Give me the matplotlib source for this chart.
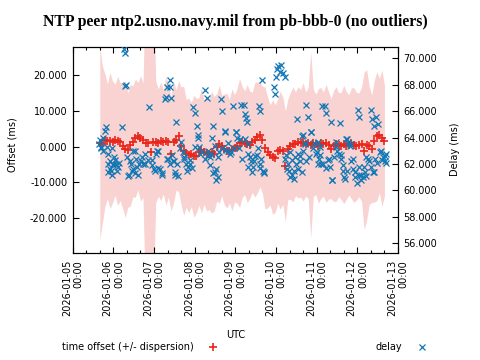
import numpy as np
import matplotlib
matplotlib.use("Agg")
import matplotlib.pyplot as plt
from matplotlib.lines import Line2D
from matplotlib.ticker import MultipleLocator

# ---------------- data (hours since 2026-01-05 00:00 UTC) ----------------
offset_hours = list(np.arange(16.0, 184.1, 1.5))
offset_ms = [1.0, 0.6, 1.8, 1.5, 1.7, 1.3, 1.9, 1.6, 1.4, 0.2,
             -0.8, -1.0, 0.4, 1.4, 2.4, 2.9, 2.3, 1.8, 1.0, 0.9,
             -1.4, 1.2, 1.4, 1.1, 1.5, 1.3, 1.7, 1.4, -2.0, 1.2,
             1.9, 2.9, 0.2, -1.2, -1.9, -2.4, -2.2, -2.7, -2.5, -1.4,
             -1.0, -1.6, -1.9, -2.1, -1.5, -2.0, -0.2, 0.7, 0.3, -0.8,
             -1.1, -1.3, -0.9, -0.5, 0.2, 1.0, 1.3, 1.1, 0.8, 0.5,
             1.2, 1.9, 2.6, 3.3, 1.9, -0.4, -1.6, -2.3, -2.9, -3.3,
             -1.3, -1.0, -1.1, -5.5, -0.7, 0.2, 0.6, 0.8, 1.2, 0.9,
             1.3, 0.7, 1.0, 0.5, 1.1, 0.6, 0.2, 1.0, 0.7, 0.9,
             0.4, -0.6, 0.2, 0.7, 0.5, 0.2, 0.6, 0.3, 0.5, 0.9,
             0.4, 0.1, 0.5, 0.7, -1.2, 0.5, 0.3, -0.6, 1.5, 2.9,
             3.1, 2.4, 1.6]
dispersion_ms = [27.0, 22.0, 18.5, 16.0, 19.0, 17.0, 15.5, 18.0, 16.5, 17.5,
                 19.0, 16.0, 17.0, 15.5, 16.5, 15.0, 17.5, 16.0, 45.0, 45.0,
                 45.0, 45.0, 17.0, 15.0, 16.5, 14.5, 18.0, 15.5, 16.0, 17.0,
                 14.0, 15.5, 16.5, 18.0, 15.0, 16.0, 14.5, 17.0, 16.0, 15.0,
                 17.5, 14.5, 16.0, 15.5, 17.0, 16.0, 15.0, 16.5, 14.0, 15.5,
                 16.0, 14.5, 17.0, 15.0, 16.0, 18.0, 15.5, 14.5, 16.5, 15.0,
                 14.0, 16.0, 15.5, 14.5, 15.0, 17.0, 15.5, 14.0, 16.0, 15.0,
                 14.5, 16.5, 15.0, 15.5, 14.0, 15.0, 16.0, 14.5, 15.5, 15.0,
                 16.5, 14.5, 15.5, 26.0, 15.0, 14.0, 16.0, 15.5, 14.5, 16.5,
                 15.0, 14.0, 15.5, 16.0, 14.5, 15.0, 16.5, 15.0, 14.0, 15.5,
                 16.0, 15.0, 14.5, 16.0, 22.0, 21.0, 16.5, 15.0, 17.0, 18.0,
                 16.0, 19.0, 15.5]

delay_hours = [15.5, 16.1, 16.7, 17.9, 19.1, 19.7, 20.2, 20.8, 22.0, 22.6,
               23.2, 23.8, 24.4, 25.6, 26.7, 29.1, 30.3, 30.6, 30.9, 31.5,
               32.1, 33.2, 34.4, 35.0, 35.6, 36.8, 38.0, 39.1, 40.3, 41.5,
               42.7, 45.0, 46.8, 48.0, 49.2, 50.3, 51.5, 52.7, 54.5, 55.1,
               55.7, 56.2, 57.4, 57.4, 58.0, 58.6, 59.8, 60.4, 60.7, 61.6,
               64.0, 65.7, 66.9, 68.1, 69.3, 71.0, 72.2, 73.4, 74.0, 74.6,
               75.1, 78.1, 79.3, 79.9, 81.0, 81.6, 82.8, 84.0, 84.6, 85.8,
               87.5, 88.1, 89.9, 90.5, 91.7, 92.9, 94.6, 96.4, 97.0, 98.2,
               99.4, 101.7, 102.3, 103.5, 101.1, 102.9, 103.5, 104.7, 105.8, 107.0,
               108.8, 110.0, 110.3, 110.6, 111.7, 112.3, 112.9, 118.8, 119.4, 120.0,
               120.6, 121.2, 122.4, 123.0, 124.1, 125.3, 125.9, 127.1, 127.7, 128.3,
               129.4, 130.6, 131.2, 132.4, 133.0, 134.2, 135.3, 135.9, 137.1, 137.7,
               138.9, 139.5, 140.7, 141.8, 143.6, 144.8, 146.0, 147.2, 144.8, 145.4,
               146.6, 149.0, 149.5, 150.7, 151.9, 152.5, 152.8, 154.2, 155.4, 156.0,
               157.8, 158.4, 159.6, 160.2, 161.4, 162.5, 163.7, 164.3, 165.5, 166.7,
               168.4, 168.7, 169.0, 170.2, 171.4, 172.5, 173.1, 174.9, 176.1, 176.7,
               177.3, 177.9, 178.5, 179.0, 180.2, 182.0, 183.2, 184.4, 184.9,
               # denser lower cluster
               16.7, 17.9, 20.8, 22.0, 23.8, 25.0, 26.1, 27.3, 20.8, 23.2,
               32.6, 33.8, 35.6, 37.4, 38.5, 36.8, 40.9, 42.7, 44.4, 46.8,
               48.6, 50.3, 49.8, 52.7, 55.7, 57.4, 59.2, 60.4, 62.2, 63.6,
               65.1, 65.7, 67.5, 69.3, 70.4, 72.2, 74.0, 76.3, 78.1, 79.9,
               81.0, 82.8, 84.6, 85.8, 82.2, 84.0, 86.4, 88.1, 89.9, 91.7,
               93.5, 95.3, 96.4, 98.8, 100.0,
               101.7, 103.5, 105.3, 106.4, 107.6, 109.4, 111.2, 110.6, 112.9, 125.3,
               126.5, 128.3, 129.4, 130.6, 131.8, 133.0, 134.2, 135.3, 135.9, 137.1,
               137.7, 140.7, 142.5, 144.2, 146.0, 147.8, 149.5, 151.3, 153.0, 155.4,
               157.2, 158.4, 159.6, 160.8, 162.0, 162.0, 163.7, 165.5, 166.7, 167.8,
               169.0, 170.2, 172.0, 173.1, 174.3, 176.1, 177.9, 179.6, 181.4, 182.6,
               184.4, 184.9]
delay_ms = [63.5, 63.8, 63.3, 64.0, 64.5, 64.8, 63.3, 62.8, 62.2, 61.5,
            61.2, 62.0, 62.5, 62.0, 61.8, 64.8, 70.7, 70.4, 67.9, 68.0,
            62.5, 61.2, 62.0, 61.5, 63.0, 61.3, 61.8, 62.0, 62.2, 62.0,
            62.8, 66.3, 62.3, 61.6, 62.8, 63.0, 61.6, 61.2, 66.9, 67.1,
            67.8, 62.4, 68.4, 67.8, 67.0, 62.7, 62.2, 61.2, 65.2, 62.0,
            63.7, 62.5, 62.0, 61.8, 62.3, 66.3, 65.9, 64.9, 64.2, 63.3,
            62.8, 67.6, 67.0, 63.0, 62.5, 62.8, 64.9, 61.4, 60.8, 62.5,
            66.9, 66.0, 64.5, 63.1, 63.0, 62.8, 66.4, 64.4, 64.0, 63.2,
            66.5, 65.8, 65.5, 61.8, 66.5, 65.2, 63.5, 62.5, 61.4, 62.2,
            62.7, 66.4, 66.0, 62.0, 68.4, 61.5, 61.4, 67.8, 67.3, 68.6,
            69.2, 69.4, 69.0, 69.5, 68.9, 68.6, 62.7, 62.0, 61.5, 61.0,
            62.3, 61.5, 62.5, 65.4, 62.8, 62.2, 64.1, 63.0, 63.5, 66.5,
            65.6, 62.5, 64.4, 63.2, 62.8, 62.0, 63.3, 66.4, 63.7, 62.4,
            62.0, 66.4, 65.9, 62.3, 61.8, 65.2, 60.8, 62.5, 63.7, 63.0,
            65.1, 62.7, 61.5, 61.0, 63.9, 63.6, 63.5, 62.2, 61.6, 61.4,
            66.1, 65.6, 61.8, 61.2, 61.0, 61.4, 62.5, 62.2, 66.1, 65.4,
            61.4, 64.9, 62.4, 65.6, 65.0, 63.0, 62.5, 62.2, 62.8,
            # denser lower cluster
            63.2, 63.0, 62.0, 61.6, 61.9, 62.3, 61.5, 62.1, 61.4, 63.2,
            61.1, 62.2, 61.6, 62.4, 61.2, 63.0, 62.5, 62.0, 62.3, 61.9,
            61.5, 61.7, 63.0, 61.3, 62.4, 62.0, 62.2, 61.4, 61.1, 63.2,
            62.9, 62.4, 61.5, 62.0, 61.7, 63.3, 64.0, 62.9, 62.4, 62.7,
            61.9, 61.3, 61.6, 61.0, 64.0, 63.4, 62.9, 63.2, 64.4, 63.6,
            62.9, 63.2, 64.4, 63.9, 62.4,
            63.9, 62.8, 62.2, 61.8, 62.6, 63.2, 62.4, 61.7, 61.3, 62.4,
            61.6, 62.9, 61.2, 60.9, 62.0, 61.6, 62.6, 61.4, 64.2, 63.6,
            62.2, 64.4, 63.6, 62.9, 62.7, 62.0, 61.7, 62.4, 60.8, 63.3,
            62.8, 62.4, 61.9, 60.9, 61.5, 63.9, 63.4, 62.4, 61.0, 60.6,
            61.2, 60.8, 61.8, 61.1, 62.4, 61.8, 61.4, 62.1, 62.9, 62.3,
            62.6, 62.1]

xtick_hours = [0, 24, 48, 72, 96, 120, 144, 168, 192]
xtick_labels = ["2026-01-05\n00:00", "2026-01-06\n00:00", "2026-01-07\n00:00",
                "2026-01-08\n00:00", "2026-01-09\n00:00", "2026-01-10\n00:00",
                "2026-01-11\n00:00", "2026-01-12\n00:00", "2026-01-13\n00:00"]
offset_ticks = [-20, -10, 0, 10, 20]
delay_ticks = [56, 58, 60, 62, 64, 66, 68, 70]

# ---------------- styling ----------------
RED = "#e8261a"
BLUE = "#1077b5"
PINK = "#f9d3d2"
FS = 7

plt.rcParams['font.family'] = ['DejaVu Sans']
plt.rcParams['axes.linewidth'] = 0.8

fig = plt.figure(figsize=(4.8, 3.6), dpi=100)
ax = fig.add_axes([72.7 / 480, 1 - 253 / 360, (398 - 72.7) / 480, 206 / 360])
ax2 = ax.twinx()

h = np.array(offset_hours)
off = np.array(offset_ms)
disp = np.array(dispersion_ms)
ax.fill_between(h, off - disp, off + disp, color=PINK, lw=0, zorder=1)
ax.plot(h, off, linestyle='none', marker='+', ms=5.5, mew=1.2, color=RED, zorder=3)
ax2.plot(delay_hours, delay_ms, linestyle='none', marker='x', ms=4.8, mew=0.9,
         color=BLUE, zorder=3)

ax.set_xlim(0, 192)
ax.set_ylim(-29.7, 27.8)
ax2.set_ylim(55.27, 70.86)

ax.set_xticks(xtick_hours)
ax.set_xticklabels(xtick_labels, rotation=90, ha='center', va='top',
                   multialignment='right', fontsize=FS)
ax.xaxis.set_minor_locator(MultipleLocator(8))
ax.set_yticks(offset_ticks)
ax.set_yticklabels(["%.3f" % v for v in offset_ticks], fontsize=FS)
ax2.set_yticks(delay_ticks)
ax2.set_yticklabels(["%.3f" % v for v in delay_ticks], fontsize=FS)

ax.tick_params(axis='x', which='both', direction='in', top=True, bottom=True,
               pad=5, labelsize=FS)
ax.tick_params(axis='x', which='major', length=4, width=0.8)
ax.tick_params(axis='x', which='minor', length=2.5, width=0.8)
ax.tick_params(axis='y', direction='in', left=True, right=False, length=4,
               width=0.8, labelsize=FS, pad=4)
ax2.tick_params(axis='y', direction='in', right=True, length=4, width=0.8,
                labelsize=FS, pad=4)

ax.set_ylabel("Offset (ms)", fontsize=FS)
ax.yaxis.set_label_coords(-0.170, 0.524)
ax2.set_ylabel("Delay (ms)", fontsize=FS, rotation=90)
ax2.yaxis.set_label_coords(1.161, 0.505)
ax.set_xlabel("UTC", fontsize=FS)
ax.xaxis.label.set_va('center')
ax.xaxis.set_label_coords(0.5, (253 - 335) / 206)

fig.text(235.5 / 480, 1 - 22 / 360,
         "NTP peer ntp2.usno.navy.mil from pb-bbb-0 (no outliers)",
         ha='center', va='center', fontfamily='Liberation Serif',
         fontweight='bold', fontsize=11.3)

h1 = Line2D([], [], linestyle='none', marker='+', ms=5.5, mew=1.2, color=RED)
h2 = Line2D([], [], linestyle='none', marker='x', ms=4.8, mew=0.9, color=BLUE)
leg1 = fig.legend([h1], ["time offset (+/- dispersion)"], loc='center left',
                  bbox_to_anchor=(62 / 480, 1 - 347 / 360), frameon=False,
                  markerfirst=False, handletextpad=1.0, borderpad=0,
                  borderaxespad=0, fontsize=FS)
leg2 = fig.legend([h2], ["delay"], loc='center left',
                  bbox_to_anchor=(376 / 480, 1 - 347 / 360), frameon=False,
                  markerfirst=False, handletextpad=1.0, borderpad=0,
                  borderaxespad=0, fontsize=FS)

fig.savefig("out.png", dpi=100)
